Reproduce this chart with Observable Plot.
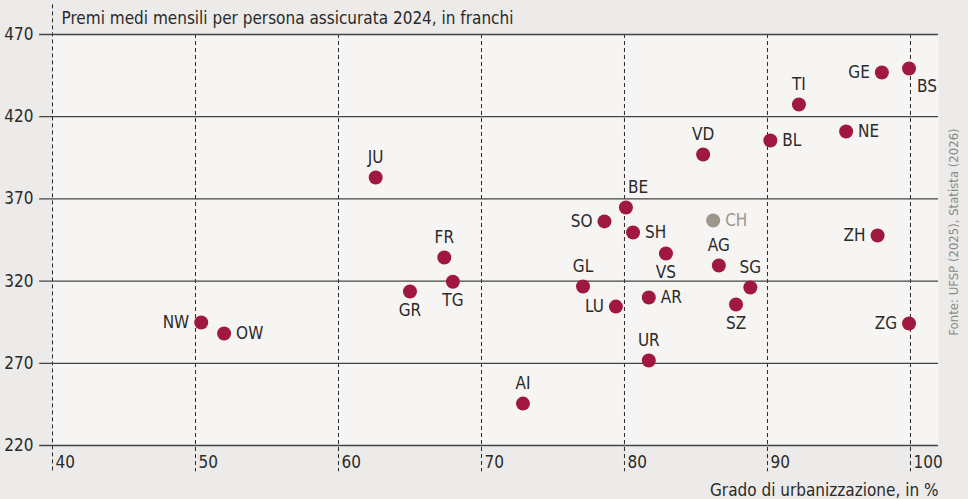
<!DOCTYPE html>
<html>
<head>
<meta charset="utf-8">
<script src="https://cdn.jsdelivr.net/npm/d3@7"></script>
<script src="https://cdn.jsdelivr.net/npm/@observablehq/plot@0.6"></script>
<style>
  html, body { margin: 0; padding: 0; background: #ecebe9; }
  #chart { width: 968px; height: 499px; }
  svg { font-family: "Liberation Sans Narrow", "DejaVu Sans Condensed", "Roboto", sans-serif; }
</style>
</head>
<body>
<div id="chart"></div>
<script>
// ---- Data ----
const cantons = ["BS","GE","TI","NE","BL","VD","JU","BE","SO","CH","SH","ZH","VS","FR","AG","TG","GL","SG","GR","AR","LU","SZ","NW","ZG","OW","UR","AI"];
const urbanization = [99.9, 98.0, 92.2, 95.5, 90.2, 85.5, 62.6, 80.1, 78.6, 86.2, 80.6, 97.7, 82.9, 67.4, 86.6, 68.0, 77.1, 88.8, 65.0, 81.7, 79.4, 87.8, 50.4, 99.9, 52.0, 81.7, 72.9];
const premiums = [449.3, 446.9, 427.4, 411.0, 405.5, 397.0, 383.0, 364.8, 356.3, 356.9, 349.6, 347.7, 336.8, 334.4, 329.5, 319.6, 316.7, 316.1, 313.7, 310.0, 304.5, 305.8, 294.8, 294.2, 288.1, 271.7, 245.5];
const xTicks = [40, 50, 60, 70, 80, 90, 100];
const yTicks = [220, 270, 320, 370, 420, 470];
const title = "Premi medi mensili per persona assicurata 2024, in franchi";
const xLabel = "Grado di urbanizzazione, in %";
const source = "Fonte: UFSP (2025), Statista (2026)";

// label placement (style)
const placement = {
  BS: "se", GE: "w", TI: "n", NE: "e", BL: "e", VD: "n", JU: "n", BE: "ne", SO: "w", CH: "e",
  SH: "e", ZH: "w", VS: "s", FR: "n", AG: "n", TG: "s", GL: "n", SG: "n", GR: "s", AR: "e",
  LU: "w", SZ: "s", NW: "w", ZG: "w", OW: "e", UR: "n", AI: "n"
};

const data = cantons.map((c, i) => ({canton: c, x: urbanization[i], y: premiums[i], pos: placement[c]}));
const sub = p => data.filter(d => d.pos === p);

const red = "#a0183f";
const grey = "#9c968c";
const ink = "#2a2a2a";
const fs = 17;

const chart = Plot.plot({
  width: 968,
  height: 499,
  marginLeft: 52,
  marginRight: 30,
  marginTop: 34,
  marginBottom: 54,
  style: {background: "transparent", fontSize: "15px", color: ink},
  x: {domain: [40, 101.96], axis: null},
  y: {domain: [220, 470], axis: null},
  marks: [
    Plot.frame({fill: "#f6f5f3", stroke: null}),
    // dashed verticals
    Plot.ruleX(xTicks.slice(1), {y1: 470, y2: 204, stroke: ink, strokeWidth: 1, strokeDasharray: "4,3"}),
    Plot.ruleX(xTicks.slice(0, 1), {y1: 488, y2: 204, stroke: ink, strokeWidth: 1, strokeDasharray: "4,3"}),
    // horizontal grid
    Plot.ruleY(yTicks, {x1: 39.1, x2: 101.96, stroke: "#444", strokeWidth: 1.3}),
    Plot.axisY({ticks: yTicks, tickSize: 0, tickPadding: 19, fontSize: 17, fill: ink, label: null}),
    Plot.axisX({ticks: xTicks, tickSize: 0, tickPadding: 10, textAnchor: "start", dx: 3, fontSize: 17, fill: ink, label: null}),
    // dots
    Plot.dot(data, {x: "x", y: "y", r: 7, fill: d => d.canton === "CH" ? grey : red, stroke: null}),
    // labels
    Plot.text(sub("n"), {x: "x", y: "y", text: "canton", dy: -20, fontSize: fs, fill: ink}),
    Plot.text(sub("s"), {x: "x", y: "y", text: "canton", dy: 19, fontSize: fs, fill: ink}),
    Plot.text(sub("ne"), {x: "x", y: "y", text: "canton", dy: -20, dx: 2, textAnchor: "start", fontSize: fs, fill: ink}),
    Plot.text(sub("se"), {x: "x", y: "y", text: "canton", dy: 18, dx: 8, textAnchor: "start", fontSize: fs, fill: ink}),
    Plot.text(sub("e"), {x: "x", y: "y", text: "canton", dx: 12, textAnchor: "start", fontSize: fs, fill: d => d.canton === "CH" ? grey : ink}),
    Plot.text(sub("w"), {x: "x", y: "y", text: "canton", dx: -12, textAnchor: "end", fontSize: fs, fill: ink}),
    // title, axis label, source
    Plot.text([title], {frameAnchor: "top-left", dx: 9, dy: -16, textAnchor: "start", lineAnchor: "middle", fontSize: 17, fill: ink}),
    Plot.text([xLabel], {frameAnchor: "bottom-right", dx: 0, dy: 45, textAnchor: "end", lineAnchor: "middle", fontSize: 17, fill: ink}),
    Plot.text([source], {frameAnchor: "right", dx: 15, dy: -8, rotate: -90, textAnchor: "middle", lineAnchor: "middle", fontSize: 13, fill: "#8a8a8a"})
  ]
});
document.getElementById("chart").appendChild(chart);
</script>
</body>
</html>
